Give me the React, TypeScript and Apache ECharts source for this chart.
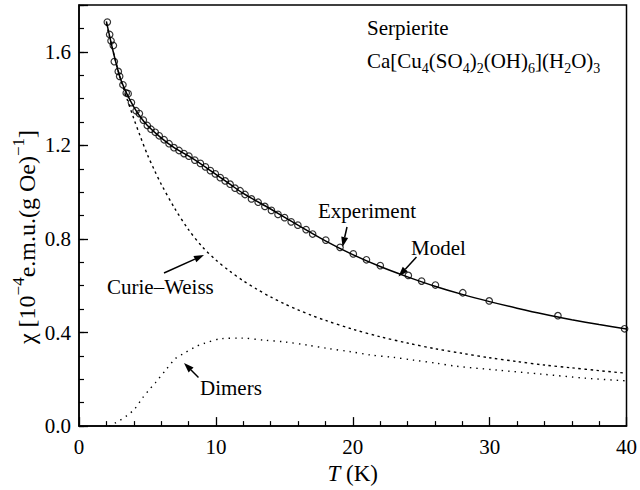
import React, { useEffect, useRef } from "react";
import * as echarts from "echarts";

const FONT = "Liberation Serif";

// Experimental data (open circles)
const expT = [2.07, 2.24, 2.34, 2.51, 2.58, 2.87, 2.97, 3.21, 3.45, 3.59, 3.83, 4.17, 4.41, 4.7, 4.99, 5.26, 5.57, 5.86, 6.22, 6.58, 6.94, 7.31, 7.67, 8.03, 8.46, 8.87, 9.24, 9.6, 9.96, 10.32, 10.68, 11.04, 11.4, 11.77, 12.13, 12.6, 13.09, 13.58, 14.06, 14.54, 15.02, 15.5, 15.99, 16.59, 17.07, 18.03, 19.07, 20.04, 21.0, 22.01, 24.06, 25.03, 26.04, 28.04, 29.97, 34.99, 39.86];
const expChi = [1.727, 1.674, 1.647, 1.627, 1.558, 1.516, 1.495, 1.459, 1.424, 1.421, 1.383, 1.348, 1.336, 1.308, 1.285, 1.269, 1.256, 1.241, 1.224, 1.207, 1.19, 1.178, 1.165, 1.154, 1.137, 1.123, 1.108, 1.092, 1.078, 1.062, 1.048, 1.034, 1.017, 1.006, 0.99, 0.971, 0.957, 0.939, 0.922, 0.905, 0.891, 0.873, 0.859, 0.84, 0.821, 0.795, 0.764, 0.736, 0.711, 0.686, 0.644, 0.62, 0.603, 0.57, 0.535, 0.472, 0.416];

// Model (solid line)
const modelT = [2.0, 2.5, 3.0, 3.5, 4, 4.5, 5, 6, 7, 8, 9, 10, 11, 12, 14, 16, 18, 20, 22, 24, 26, 28, 30, 32, 34, 36, 38, 40];
const modelChi = [1.73, 1.6, 1.49, 1.42, 1.365, 1.32, 1.285, 1.232, 1.188, 1.155, 1.117, 1.076, 1.035, 0.995, 0.928, 0.859, 0.792, 0.733, 0.682, 0.638, 0.598, 0.563, 0.532, 0.504, 0.478, 0.455, 0.434, 0.415];

// Curie–Weiss contribution (dashed)
const cwT = [2.0, 2.5, 3.0, 3.5, 4, 4.5, 5, 5.5, 6, 7, 8, 9, 10, 11, 12, 13, 14, 15, 16, 17, 18, 20, 22, 24, 26, 28, 30, 32, 34, 36, 38, 40];
const cwChi = [1.72, 1.6, 1.49, 1.4, 1.315, 1.235, 1.16, 1.095, 1.035, 0.93, 0.84, 0.767, 0.71, 0.663, 0.621, 0.585, 0.552, 0.523, 0.497, 0.473, 0.452, 0.414, 0.382, 0.355, 0.331, 0.311, 0.292, 0.276, 0.261, 0.249, 0.237, 0.226];

// Dimer contribution (dotted)
const dimT = [2.2, 2.6, 3.0, 3.5, 4.05, 4.65, 5.14, 5.62, 6.34, 7.07, 7.67, 8.51, 9.11, 10.44, 11.88, 13.58, 15.0, 16.71, 18.16, 19.84, 21.29, 22.98, 24.43, 26.1, 27.56, 30.45, 33.83, 36.96, 39.86];
const dimChi = [0.0, 0.012, 0.025, 0.045, 0.072, 0.121, 0.156, 0.188, 0.24, 0.29, 0.311, 0.339, 0.353, 0.374, 0.376, 0.367, 0.36, 0.346, 0.332, 0.318, 0.304, 0.294, 0.282, 0.269, 0.256, 0.24, 0.222, 0.205, 0.194];

const xTickLabels = ["0", "10", "20", "30", "40"];

function arrow(x1: number, y1: number, x2: number, y2: number) {
  const dx = x2 - x1;
  const dy = y2 - y1;
  const len = Math.sqrt(dx * dx + dy * dy);
  const ux = dx / len;
  const uy = dy / len;
  const hl = 10;
  const hw = 3.5;
  const bx = x2 - ux * hl;
  const by = y2 - uy * hl;
  return [
    {
      type: "line",
      shape: { x1, y1, x2: bx, y2: by },
      style: { stroke: "#000", lineWidth: 1.5 },
      silent: true,
    },
    {
      type: "polygon",
      shape: {
        points: [
          [x2, y2],
          [bx - uy * hw, by + ux * hw],
          [bx + uy * hw, by - ux * hw],
        ],
      },
      style: { fill: "#000" },
      silent: true,
    },
  ];
}

function txt(text: string, x: number, y: number, size = 21, align = "left") {
  return {
    type: "text",
    x,
    y,
    style: {
      text,
      fill: "#000",
      fontFamily: FONT,
      fontSize: size,
      align,
      verticalAlign: "middle",
    },
    silent: true,
  };
}

export default function App() {
  const ref = useRef<HTMLDivElement>(null);

  useEffect(() => {
    if (!ref.current) return;
    const chart = echarts.init(ref.current, undefined, { renderer: "svg" });

    const zip = (a: number[], b: number[]) => a.map((v, i) => [v, b[i]]);

    const option: any = {
      animation: false,
      backgroundColor: "#fff",
      grid: {
        left: 79,
        right: 8,
        top: 5,
        bottom: 58,
        show: true,
        borderColor: "#000",
        borderWidth: 1.5,
      },
      xAxis: [
        {
          type: "value",
          min: 0,
          max: 40,
          interval: 10,
          name: "{i|T} (K)",
          nameLocation: "middle",
          nameGap: 30,
          nameTextStyle: {
            fontFamily: FONT,
            fontSize: 23,
            color: "#000",
            rich: {
              i: { fontFamily: FONT, fontSize: 23, fontStyle: "italic", color: "#000" },
            },
          },
          axisLine: { show: true, lineStyle: { color: "#000", width: 1.5 } },
          axisTick: { show: true, inside: true, length: 9, lineStyle: { color: "#000", width: 1.3 } },
          minorTick: { show: true, splitNumber: 5, length: 5, lineStyle: { color: "#000", width: 1.2 } },
          axisLabel: {
            fontFamily: FONT,
            fontSize: 21,
            color: "#000",
            margin: 10,
            formatter: (v: number) => xTickLabels[Math.round(v / 10)] ?? "",
          },
          splitLine: { show: false },
        },
      ],
      yAxis: [
        {
          type: "value",
          min: 0,
          max: 1.8,
          interval: 0.1,
          position: "left",
          axisLine: { show: true, lineStyle: { color: "#000", width: 1.5 } },
          axisTick: { show: true, inside: true, length: 5, lineStyle: { color: "#000", width: 1.2 } },
          axisLabel: {
            fontFamily: FONT,
            fontSize: 21,
            color: "#000",
            margin: 8,
            formatter: (v: number) => {
              const k = Math.round(v * 10);
              return k % 4 === 0 ? (k / 10).toFixed(1) : "";
            },
          },
          splitLine: { show: false },
        },
        {
          type: "value",
          min: 0,
          max: 1.8,
          interval: 0.4,
          position: "left",
          axisLine: { show: false },
          axisTick: { show: true, inside: true, length: 9, lineStyle: { color: "#000", width: 1.3 } },
          axisLabel: { show: false },
          splitLine: { show: false },
        },
      ],
      series: [
        {
          name: "Model",
          type: "line",
          data: zip(modelT, modelChi),
          showSymbol: false,
          smooth: 0.3,
          lineStyle: { color: "#000", width: 1.5 },
          z: 3,
        },
        {
          name: "Curie–Weiss",
          type: "line",
          data: zip(cwT, cwChi),
          showSymbol: false,
          smooth: 0.3,
          lineStyle: { color: "#000", width: 1.4, type: [2.5, 3.5] },
          z: 2,
        },
        {
          name: "Dimers",
          type: "line",
          data: zip(dimT, dimChi),
          showSymbol: false,
          smooth: 0.3,
          lineStyle: { color: "#000", width: 1.4, type: [1.4, 5] },
          z: 2,
        },
        {
          name: "Experiment",
          type: "scatter",
          data: zip(expT, expChi),
          symbol: "circle",
          symbolSize: 6.5,
          itemStyle: { color: "rgba(0,0,0,0)", borderColor: "#000", borderWidth: 1.2 },
          z: 4,
        },
      ],
      graphic: [
        {
          type: "text",
          x: 27,
          y: 237,
          rotation: Math.PI / 2,
          style: {
            text: "{n|χ [10}{s|−4}{n|e.m.u.(g Oe)}{s|−1}{n|]}",
            fill: "#000",
            fontFamily: FONT,
            fontSize: 24,
            align: "center",
            verticalAlign: "middle",
            rich: {
              n: { fontFamily: FONT, fontSize: 24, lineHeight: 34, fill: "#000" },
              s: { fontFamily: FONT, fontSize: 17, lineHeight: 17, verticalAlign: "top", fill: "#000" },
            },
          },
          silent: true,
        },
        txt("Serpierite", 367, 28),
        {
          type: "text",
          x: 367,
          y: 61,
          style: {
            text: "{n|Ca[Cu}{b|4}{n|(SO}{b|4}{n|)}{b|2}{n|(OH)}{b|6}{n|](H}{b|2}{n|O)}{b|3}",
            fill: "#000",
            fontFamily: FONT,
            fontSize: 21,
            align: "left",
            verticalAlign: "middle",
            rich: {
              n: { fontFamily: FONT, fontSize: 21, lineHeight: 28, fill: "#000" },
              b: { fontFamily: FONT, fontSize: 14, lineHeight: 14, verticalAlign: "bottom", fill: "#000" },
            },
          },
          silent: true,
        },
        txt("Experiment", 318, 211),
        ...arrow(347, 227, 342.5, 247),
        txt("Model", 411, 248),
        ...arrow(416.5, 257, 398.5, 276.5),
        txt("Curie–Weiss", 107, 287),
        ...arrow(164, 273, 204, 255),
        txt("Dimers", 200, 388),
        ...arrow(198.5, 377.5, 184, 363),
      ],
    };

    chart.setOption(option);
    return () => chart.dispose();
  }, []);

  return (
    <div
      ref={ref}
      style={{ position: "fixed", left: 0, top: 0, width: 640, height: 490, background: "#fff" }}
    />
  );
}
